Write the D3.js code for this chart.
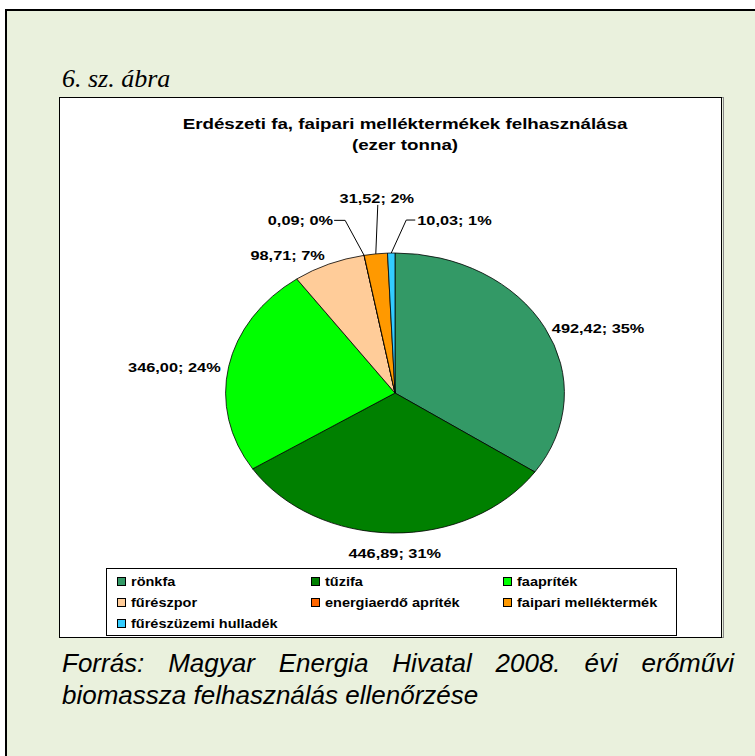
<!DOCTYPE html>
<html>
<head>
<meta charset="utf-8">
<script src="https://cdn.jsdelivr.net/npm/d3@7"></script>
<style>
  html, body { margin: 0; padding: 0; background: #fff; }
  svg { display: block; }
</style>
</head>
<body>
<div id="chart"></div>
<script>
// data
const categories = ['rönkfa', 'tűzifa', 'faapríték', 'fűrészpor', 'energiaerdő apríték', 'faipari melléktermék', 'fűrészüzemi hulladék'];
const values = [492.42, 446.89, 346.00, 98.71, 0.09, 31.52, 10.03];
const percentLabels = ['35%', '31%', '24%', '7%', '0%', '2%', '1%'];
const colors = ['#339966', '#008000', '#00ff00', '#ffcc99', '#ff6600', '#ff9900', '#33ccff'];
const titleLines = ['Erdészeti fa, faipari melléktermékek felhasználása', '(ezer tonna)'];
const figureCaption = '6. sz. ábra';
const sourceLine1 = ['Forrás:', 'Magyar', 'Energia', 'Hivatal', '2008.', 'évi', 'erőművi'];
const sourceLine2 = 'biomassza felhasználás ellenőrzése';

// label placement relative to the slice edge point
const labelNudge = [
  { dx: 7, dy: 1, anchor: 'start' },
  { dx: 2, dy: 20, anchor: 'middle' },
  { dx: -8, dy: 1, anchor: 'end' },
  { dx: -4, dy: -9, anchor: 'end' },
  { dx: -31, dy: -35, anchor: 'end', elbow: 11 },
  { dx: 1, dy: -56, anchor: 'middle', elbow: 0 },
  { dx: 26, dy: -33, anchor: 'start', elbow: -9 }
];

const W = 755, H = 756;
const sx = 1.21;             // the chart picture is stretched horizontally
const cx = 395, cy = 393, ry = 140, rx = ry * sx;

const svg = d3.select('#chart').append('svg').attr('width', W).attr('height', H);

// page background and frame
svg.append('rect').attr('x', 0).attr('y', 0).attr('width', W).attr('height', H).attr('fill', '#ffffff');
svg.append('rect').attr('x', 6).attr('y', 10).attr('width', 800).attr('height', 800)
  .attr('fill', '#eaf1dd').attr('stroke', '#000').attr('stroke-width', 2);

svg.append('text').attr('x', 62).attr('y', 87)
  .style('font', 'italic 26px "Liberation Serif", "Times New Roman", serif')
  .attr('fill', '#000').text(figureCaption);

// chart area
svg.append('rect').attr('x', 60.5).attr('y', 97.5).attr('width', 663).attr('height', 540)
  .attr('fill', 'none').attr('stroke', '#888').attr('stroke-width', 1);
svg.append('rect').attr('x', 59.5).attr('y', 97.5).attr('width', 662).attr('height', 540)
  .attr('fill', '#fff').attr('stroke', '#000').attr('stroke-width', 1);

function stretchedText(g, x, y, txt, anchor, font) {
  return g.append('text')
    .attr('transform', `translate(${x},${y}) scale(${sx},1)`)
    .attr('text-anchor', anchor)
    .style('font', font)
    .attr('fill', '#000')
    .text(txt);
}

const labelFont = 'bold 13.5px "Liberation Sans", Arial, sans-serif';

titleLines.forEach((t, i) => {
  stretchedText(svg, 405, 129 + i * 21, t, 'middle', 'bold 15.5px "Liberation Sans", Arial, sans-serif');
});

// pie
const pie = d3.pie().sort(null).value(d => d)(values);
const arc = d3.arc().innerRadius(0).outerRadius(ry);

svg.append('g')
  .attr('transform', `translate(${cx},${cy}) scale(${sx},1)`)
  .selectAll('path')
  .data(pie)
  .join('path')
  .attr('d', arc)
  .attr('fill', (d, i) => colors[i])
  .attr('stroke', '#000')
  .attr('stroke-width', 0.8)
  .attr('vector-effect', 'non-scaling-stroke');

const fmt = v => d3.format('.2f')(v).replace('.', ',');

pie.forEach((d, i) => {
  const a = (d.startAngle + d.endAngle) / 2;
  const px = cx + rx * Math.sin(a), py = cy - ry * Math.cos(a);
  const n = labelNudge[i];
  const lx = px + n.dx, ly = py + n.dy;
  stretchedText(svg, lx, ly, fmt(values[i]) + '; ' + percentLabels[i], n.anchor, labelFont)
    .attr('dy', '0.35em');
  if (n.elbow === undefined) return;
  // leader line from the label to the slice
  let pts;
  if (n.anchor === 'middle') {
    pts = [[lx + 1, ly + 7], [px, py]];
  } else {
    const x0 = n.anchor === 'end' ? lx + 1 : lx - 2;
    pts = [[x0, ly], [x0 + n.elbow, ly], [px, py]];
  }
  svg.append('path').attr('d', d3.line()(pts))
    .attr('fill', 'none').attr('stroke', '#000').attr('stroke-width', 1);
});

// legend
const legend = svg.append('g');
legend.append('rect').attr('x', 106.5).attr('y', 568.5).attr('width', 570).attr('height', 67)
  .attr('fill', '#fff').attr('stroke', '#000').attr('stroke-width', 1);
const colX = [117, 311, 503], rowY = [582, 603, 624];
categories.forEach((c, i) => {
  const x = colX[i % 3], y = rowY[Math.floor(i / 3)];
  legend.append('rect').attr('x', x + 0.5).attr('y', y - 4.5).attr('width', 8).attr('height', 8)
    .attr('fill', colors[i]).attr('stroke', '#000').attr('stroke-width', 1);
  stretchedText(legend, x + 14, y, c, 'start', 'bold 12px "Liberation Sans", Arial, sans-serif')
    .attr('dy', '0.35em');
});

// source note, justified first line
const srcFont = 'italic 26px "Liberation Sans", Arial, sans-serif';
const srcLeft = 62, srcRight = 734;
const words = svg.append('g').selectAll('text').data(sourceLine1).join('text')
  .attr('y', 672).style('font', srcFont).attr('fill', '#000').text(d => d);
const widths = [];
words.each(function () { widths.push(this.getComputedTextLength()); });
const gap = (srcRight - srcLeft - d3.sum(widths)) / (sourceLine1.length - 1);
let cursor = srcLeft;
words.attr('x', (d, i) => { const x = cursor; cursor += widths[i] + gap; return x; });
svg.append('text').attr('x', srcLeft).attr('y', 704).style('font', srcFont).attr('fill', '#000').text(sourceLine2);
</script>
</body>
</html>
